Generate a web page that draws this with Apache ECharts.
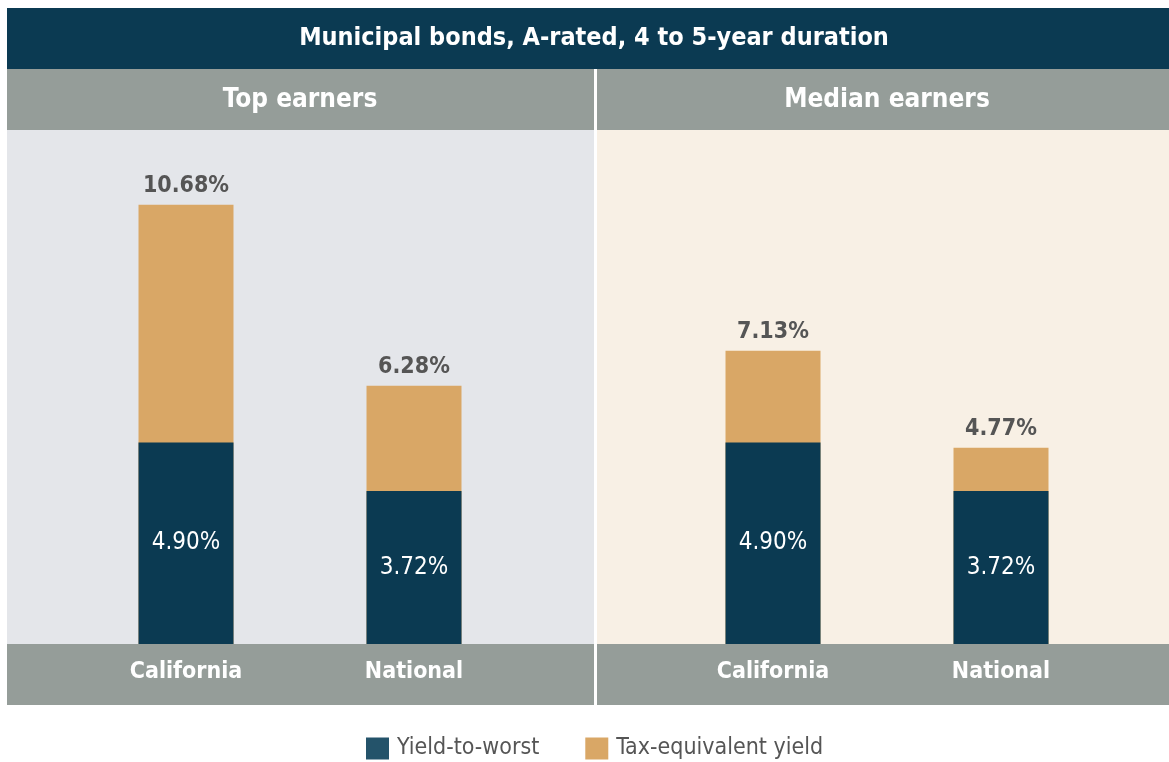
<!DOCTYPE html>
<html>
<head>
<meta charset="utf-8">
<script src="https://cdn.jsdelivr.net/npm/echarts@6/dist/echarts.min.js"></script>
<style>html,body{margin:0;padding:0;background:#fff;}#c{width:1169px;height:762px;}</style>
</head>
<body>
<div id="c"></div>
<script>
const chartTitle = 'Municipal bonds, A-rated, 4 to 5-year duration';
const panels = ['Top earners', 'Median earners'];
const categories = ['California', 'National'];
const seriesNames = ['Yield-to-worst', 'Tax-equivalent yield'];
const topYieldToWorst = [4.90, 3.72];
const topTaxEquivalent = [10.68, 6.28];
const medianYieldToWorst = [4.90, 3.72];
const medianTaxEquivalent = [7.13, 4.77];

const FONT = "'Liberation Sans Narrow', 'DejaVu Sans Condensed', 'Roboto', sans-serif";
const NAVY = '#0b3a52';
const TAN = '#d9a766';
const GRAY = '#959d99';

const chart = echarts.init(document.getElementById('c'), null, {renderer: 'canvas'});

function pct(p) { return p.value.toFixed(2) + '%'; }

function makeSeries(gi, ytw, tey) {
  return [
    {
      name: seriesNames[1], type: 'bar', xAxisIndex: gi, yAxisIndex: gi,
      data: tey, barWidth: 95, itemStyle: {color: TAN},
      label: {show: true, position: 'top', distance: 7, formatter: pct,
        color: '#555555', fontFamily: FONT, fontWeight: 'bold', fontSize: 23},
      z: 2
    },
    {
      name: seriesNames[0], type: 'bar', xAxisIndex: gi, yAxisIndex: gi,
      data: ytw, barWidth: 95, barGap: '-100%', itemStyle: {color: NAVY},
      label: {show: true, position: 'inside', formatter: pct,
        color: '#ffffff', fontFamily: FONT, fontWeight: 'normal', fontSize: 24},
      z: 3
    }
  ];
}

const xAxisCommon = {
  type: 'category', data: categories,
  axisLine: {show: false}, axisTick: {show: false},
  axisLabel: {color: '#ffffff', fontFamily: FONT, fontWeight: 'bold', fontSize: 23, margin: 17}
};
const yAxisCommon = {type: 'value', min: 0, max: 12.5, show: false, splitLine: {show: false}};

chart.setOption({
  animation: false,
  backgroundColor: '#ffffff',
  grid: [
    {left: 72, width: 456, top: 130, height: 514},
    {left: 659, width: 456, top: 130, height: 514}
  ],
  xAxis: [Object.assign({gridIndex: 0}, xAxisCommon), Object.assign({gridIndex: 1}, xAxisCommon)],
  yAxis: [Object.assign({gridIndex: 0}, yAxisCommon), Object.assign({gridIndex: 1}, yAxisCommon)],
  legend: {
    left: 361, top: 732, itemWidth: 23, itemHeight: 22, itemGap: 46,
    icon: 'rect',
    textStyle: {color: '#555555', fontFamily: FONT, fontSize: 23, padding: [0, 0, 0, 3]},
    data: [
      {name: seriesNames[0], itemStyle: {color: '#24536a'}},
      {name: seriesNames[1], itemStyle: {color: TAN}}
    ]
  },
  graphic: [
    {type: 'rect', shape: {x: 7, y: 8, width: 1162, height: 61}, style: {fill: NAVY}, z: -10},
    {type: 'rect', shape: {x: 7, y: 69, width: 587, height: 61}, style: {fill: GRAY}, z: -10},
    {type: 'rect', shape: {x: 597, y: 69, width: 572, height: 61}, style: {fill: GRAY}, z: -10},
    {type: 'rect', shape: {x: 7, y: 130, width: 587, height: 514}, style: {fill: '#e4e6ea'}, z: -10},
    {type: 'rect', shape: {x: 597, y: 130, width: 572, height: 514}, style: {fill: '#f8f0e5'}, z: -10},
    {type: 'rect', shape: {x: 7, y: 644, width: 587, height: 61}, style: {fill: GRAY}, z: -10},
    {type: 'rect', shape: {x: 597, y: 644, width: 572, height: 61}, style: {fill: GRAY}, z: -10},
    {type: 'text', x: 594, y: 38, z: 5, style: {text: chartTitle, fill: '#ffffff', font: "bold 25px " + FONT, textAlign: 'center', textVerticalAlign: 'middle'}},
    {type: 'text', x: 300, y: 100, z: 5, style: {text: panels[0], fill: '#ffffff', font: "bold 26px " + FONT, textAlign: 'center', textVerticalAlign: 'middle'}},
    {type: 'text', x: 887, y: 100, z: 5, style: {text: panels[1], fill: '#ffffff', font: "bold 26px " + FONT, textAlign: 'center', textVerticalAlign: 'middle'}}
  ],
  series: [].concat(makeSeries(0, topYieldToWorst, topTaxEquivalent), makeSeries(1, medianYieldToWorst, medianTaxEquivalent))
});
</script>
</body>
</html>
